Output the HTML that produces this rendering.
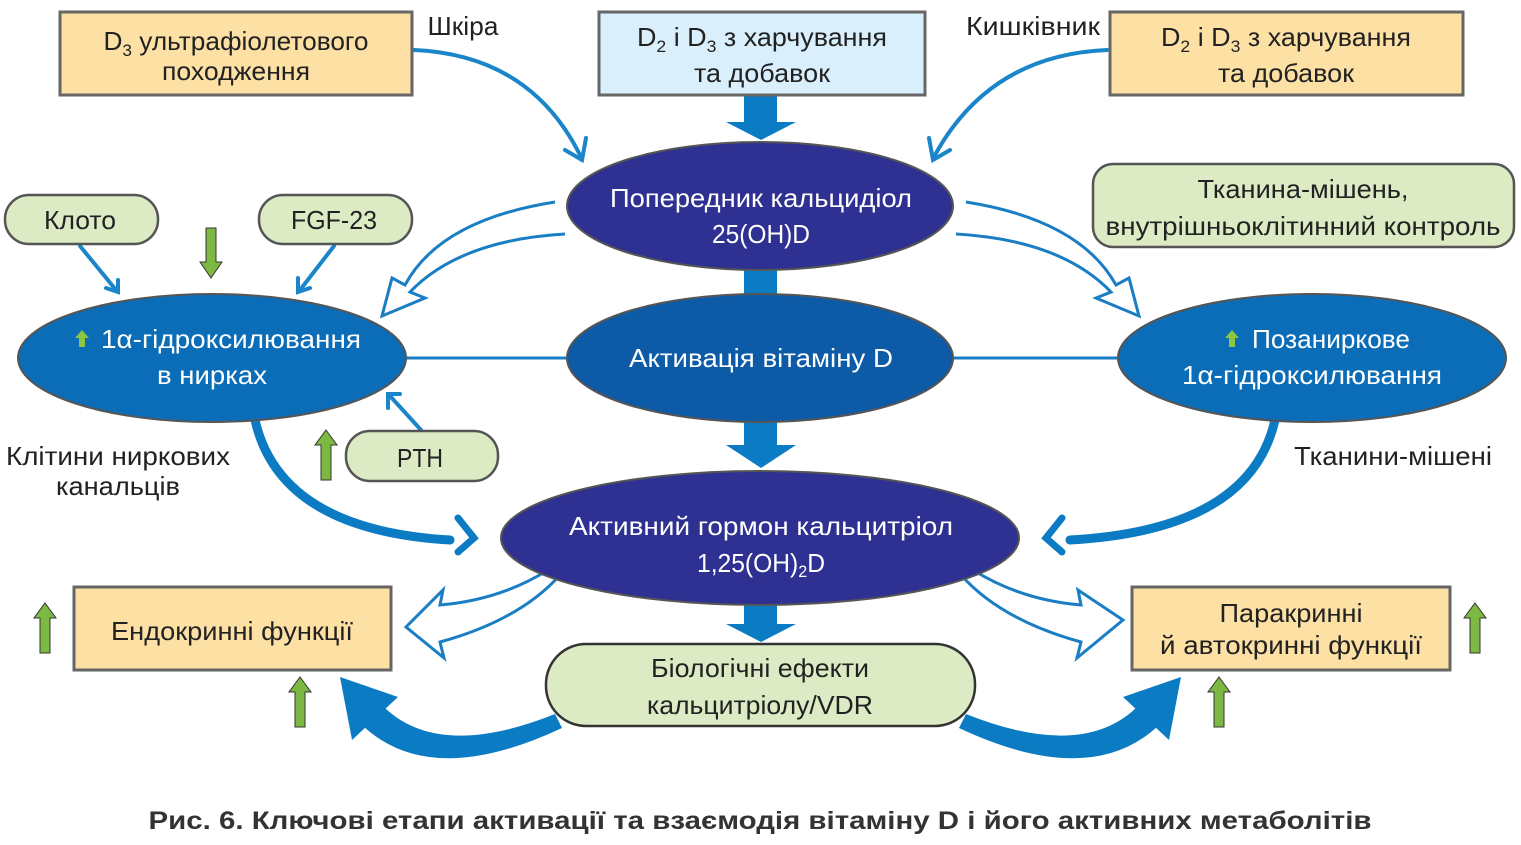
<!DOCTYPE html>
<html><head><meta charset="utf-8"><style>
html,body{margin:0;padding:0;background:#fff;width:1521px;height:845px;overflow:hidden}
svg text{font-family:"Liberation Sans Narrow","Liberation Sans",sans-serif;font-size:26px;text-anchor:middle}
</style></head><body>
<svg width="1521" height="845" viewBox="0 0 1521 845" xmlns="http://www.w3.org/2000/svg">
<defs>
<g id="gup"><polygon points="0,-25 11,-10 5,-10 5,25 -5,25 -5,-10 -11,-10" fill="#7cb942" stroke="#333" stroke-width="1"/></g>
</defs>
<g fill="#0b7cc4">
<rect x="744" y="95" width="33" height="30"/><polygon points="726,122 796,122 761,140"/>
<rect x="744" y="265" width="33" height="35"/>
<rect x="744" y="415" width="33" height="32"/><polygon points="726,445 796,445 761,468"/>
<rect x="744" y="598" width="33" height="28"/><polygon points="726,624 796,624 761,642"/>
</g>
<line x1="400" y1="358" x2="570" y2="358" stroke="#1a7ec4" stroke-width="3"/>
<line x1="950" y1="358" x2="1122" y2="358" stroke="#1a7ec4" stroke-width="3"/>
<g fill="none" stroke="#1a85c8" stroke-width="4" stroke-linecap="round">
<path d="M414,50 Q530,55 580,155"/><path d="M565,150 L582,160 L586,138"/>
<path d="M1107,50 Q990,55 935,155"/><path d="M950,150 L933,160 L929,138"/>
<path d="M80,246 L116,290"/><path d="M106,288 L118,292 L118,280"/>
<path d="M334,246 L300,290"/><path d="M298,278 L298,292 L310,288"/>
<path d="M421,430 L390,396"/><path d="M388,408 L388,394 L400,394"/>
</g>
<g fill="none" stroke="#0b7cc4" stroke-linecap="round">
<path d="M255,420 Q280,530 450,540" stroke-width="9"/>
<path d="M458,518 L474,538 L458,552" stroke-width="7"/>
<path d="M1275,420 Q1250,530 1070,540" stroke-width="9"/>
<path d="M1062,518 L1046,538 L1062,552" stroke-width="7"/>
</g>
<g fill="#fff" stroke="#1a7ec4" stroke-width="3" stroke-linejoin="miter">
<path d="M555,202 Q440,220 405,285 L392,278 L382,316 L425,298 L410,292 Q460,240 565,234"/>
<path d="M966,202 Q1080,220 1116,285 L1129,278 L1139,316 L1096,298 L1111,292 Q1061,240 956,234"/>
<path d="M548,570 Q500,600 440,605 L443,590 L406,627 L444,658 L440,642 Q520,620 560,575"/>
<path d="M973,570 Q1021,600 1081,605 L1078,590 L1123,620 L1077,658 L1081,642 Q1001,620 961,575"/>
</g>
<g fill="#0b7cc4">
<polygon points="340,677 352,740 398,697"/>
<path d="M362,725 Q430,790 562,728 L555,714 Q440,760 385,708 Z"/>
<polygon points="1181,677 1169,740 1123,697"/>
<path d="M1159,725 Q1091,790 959,728 L966,714 Q1081,760 1136,708 Z"/>
</g>
<rect x="60" y="12" width="352" height="83" fill="#fde0a4" stroke="#666" stroke-width="3"/>
<rect x="599" y="12" width="326" height="83" fill="#d9effb" stroke="#666" stroke-width="3"/>
<rect x="1110" y="12" width="353" height="83" fill="#fde0a4" stroke="#666" stroke-width="3"/>
<rect x="74" y="587" width="317" height="83" fill="#fde0a4" stroke="#666" stroke-width="3"/>
<rect x="1132" y="587" width="318" height="83" fill="#fde0a4" stroke="#666" stroke-width="3"/>
<rect x="546" y="644" width="429" height="82" rx="40" fill="#dcebc4" stroke="#333" stroke-width="2.5"/>
<rect x="1093" y="164" width="421" height="83" rx="20" fill="#dcebc4" stroke="#555" stroke-width="2.5"/>
<rect x="5" y="195" width="153" height="49" rx="24" fill="#dcebc4" stroke="#555" stroke-width="2.5"/>
<rect x="259" y="195" width="153" height="49" rx="24" fill="#dcebc4" stroke="#555" stroke-width="2.5"/>
<rect x="346" y="431" width="152" height="50" rx="24" fill="#dcebc4" stroke="#555" stroke-width="2.5"/>
<ellipse cx="760" cy="206" rx="193" ry="64" fill="#2e3192" stroke="#555" stroke-width="2"/>
<ellipse cx="760" cy="358" rx="193" ry="64" fill="#0d5ba7" stroke="#555" stroke-width="2"/>
<ellipse cx="212" cy="358" rx="194" ry="64" fill="#0b6db7" stroke="#555" stroke-width="2"/>
<ellipse cx="1312" cy="358" rx="194" ry="64" fill="#0b6db7" stroke="#555" stroke-width="2"/>
<ellipse cx="760" cy="538" rx="259" ry="67" fill="#2e3192" stroke="#555" stroke-width="2"/>
<polygon points="211,278 222,262 216,262 216,228 206,228 206,262 200,262" fill="#7cb942" stroke="#333" stroke-width="1"/>
<use href="#gup" x="326" y="455"/>
<use href="#gup" x="45" y="628"/>
<use href="#gup" x="300" y="702"/>
<use href="#gup" x="1219" y="702"/>
<use href="#gup" x="1475" y="628"/>
<g fill="#222">
<text x="236" y="50" textLength="265" lengthAdjust="spacingAndGlyphs">D<tspan font-size="17" dy="6">3</tspan><tspan dy="-6"> ультрафіолетового</tspan></text>
<text x="236" y="80" textLength="148" lengthAdjust="spacingAndGlyphs">походження</text>
<text x="762" y="46" textLength="250" lengthAdjust="spacingAndGlyphs">D<tspan font-size="17" dy="6">2</tspan><tspan dy="-6"> і D</tspan><tspan font-size="17" dy="6">3</tspan><tspan dy="-6"> з харчування</tspan></text>
<text x="762" y="82" textLength="136" lengthAdjust="spacingAndGlyphs">та добавок</text>
<text x="1286" y="46" textLength="250" lengthAdjust="spacingAndGlyphs">D<tspan font-size="17" dy="6">2</tspan><tspan dy="-6"> і D</tspan><tspan font-size="17" dy="6">3</tspan><tspan dy="-6"> з харчування</tspan></text>
<text x="1286" y="82" textLength="136" lengthAdjust="spacingAndGlyphs">та добавок</text>
<text x="463" y="35" textLength="71" lengthAdjust="spacingAndGlyphs">Шкіра</text>
<text x="1033" y="35" textLength="134" lengthAdjust="spacingAndGlyphs">Кишківник</text>
<text x="1303" y="198" textLength="211" lengthAdjust="spacingAndGlyphs">Тканина-мішень,</text>
<text x="1303" y="235" textLength="395" lengthAdjust="spacingAndGlyphs">внутрішньоклітинний контроль</text>
<text x="80" y="229" textLength="72" lengthAdjust="spacingAndGlyphs">Клото</text>
<text x="334" y="229" textLength="86" lengthAdjust="spacingAndGlyphs">FGF-23</text>
<text x="420" y="467" textLength="46" lengthAdjust="spacingAndGlyphs">PTH</text>
<text x="118" y="465" textLength="224" lengthAdjust="spacingAndGlyphs">Клітини ниркових</text>
<text x="118" y="495" textLength="124" lengthAdjust="spacingAndGlyphs">канальців</text>
<text x="1393" y="465" textLength="198" lengthAdjust="spacingAndGlyphs">Тканини-мішені</text>
<text x="232" y="640" textLength="242" lengthAdjust="spacingAndGlyphs">Ендокринні функції</text>
<text x="1291" y="622" textLength="143" lengthAdjust="spacingAndGlyphs">Паракринні</text>
<text x="1291" y="654" textLength="262" lengthAdjust="spacingAndGlyphs">й автокринні функції</text>
<text x="760" y="677" textLength="218" lengthAdjust="spacingAndGlyphs">Біологічні ефекти</text>
<text x="760" y="714" textLength="226" lengthAdjust="spacingAndGlyphs">кальцитріолу/VDR</text>
</g>
<g fill="#fff">
<text x="761" y="207" textLength="302" lengthAdjust="spacingAndGlyphs">Попередник кальцидіол</text>
<text x="761" y="243" textLength="98" lengthAdjust="spacingAndGlyphs">25(OH)D</text>
<text x="761" y="367" textLength="264" lengthAdjust="spacingAndGlyphs">Активація вітаміну D</text>
<text x="231" y="348" textLength="260" lengthAdjust="spacingAndGlyphs">1α-гідроксилювання</text>
<text x="212" y="384" textLength="110" lengthAdjust="spacingAndGlyphs">в нирках</text>
<text x="1331" y="348" textLength="158" lengthAdjust="spacingAndGlyphs">Позаниркове</text>
<text x="1312" y="384" textLength="260" lengthAdjust="spacingAndGlyphs">1α-гідроксилювання</text>
<text x="761" y="535" textLength="384" lengthAdjust="spacingAndGlyphs">Активний гормон кальцитріол</text>
<text x="761" y="572" textLength="128" lengthAdjust="spacingAndGlyphs">1,25(OH)<tspan font-size="17" dy="5">2</tspan><tspan dy="-5">D</tspan></text>
</g>
<polygon points="82,330 89,338 85,338 85,347 79,347 79,338 75,338" fill="#8cc63f"/>
<polygon points="1232,330 1239,338 1235,338 1235,347 1229,347 1229,338 1225,338" fill="#8cc63f"/>
<text x="760" y="829" fill="#333" style="font-family:'Liberation Sans',sans-serif;font-weight:bold;font-size:25px" textLength="1223" lengthAdjust="spacingAndGlyphs">Рис. 6. Ключові етапи активації та взаємодія вітаміну D і його активних метаболітів</text>
</svg>
</body></html>
